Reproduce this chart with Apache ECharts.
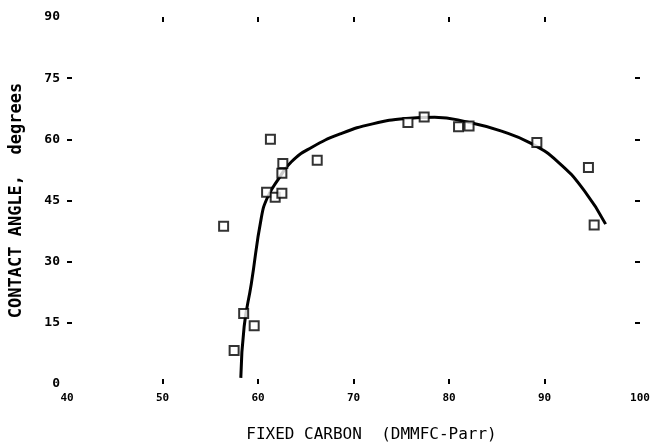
<!DOCTYPE html>
<html>
<head>
<meta charset="utf-8">
<script src="https://cdn.jsdelivr.net/npm/echarts@6/dist/echarts.min.js"></script>
<style>
	html, body { margin: 0; padding: 0; background: #fff; }
	#chart { width: 654px; height: 448px; }
</style>
</head>
<body>
<div id="chart"></div>
<script>
// measured samples (fixed carbon %, contact angle deg)
var carbon = [56.4, 57.5, 58.5, 59.6, 60.9, 61.3, 61.8, 62.5, 62.5, 62.6, 66.2, 75.7, 77.4, 81.0, 82.1, 89.2, 94.6, 95.2];
var angle = [38.7, 8.2, 17.3, 14.3, 47.0, 60.0, 45.8, 46.8, 51.7, 54.1, 54.9, 64.1, 65.5, 63.1, 63.3, 59.2, 53.1, 39.0];

// fitted curve
var fitCarbon = [58.2, 58.55, 59.3, 60.35, 61.0, 62.1, 63.5, 65.6, 68.7, 72.0, 75.5, 78.5, 82.0, 85.5, 88.6, 91.4, 94.2, 96.4];
var fitAngle = [1.5, 14.1, 24.6, 40.8, 45.8, 50.1, 54.5, 58.0, 61.4, 63.8, 65.1, 65.4, 64.2, 62.0, 59.0, 54.5, 47.3, 39.2];

var xTicks = [50, 60, 70, 80, 90];
var yTicks = [15, 30, 45, 60, 75];

var mono = 'DejaVu Sans Mono';

function pairs(xs, ys) {
	var out = [];
	for(var i = 0; i < xs.length; i++) {
		out.push([xs[i], ys[i]]);
	}
	return out;
}

function xAxisOf(pos, showLabel) {
	return {
		type: 'value',
		position: pos,
		min: 40,
		max: 100,
		interval: 10,
		splitLine: { show: false },
		axisLine: { show: false, onZero: false },
		axisTick: { show: true, inside: true, length: 5, customValues: xTicks, lineStyle: { color: '#000', width: 2 } },
		axisLabel: { show: showLabel, color: '#000', fontFamily: mono, fontWeight: 'bold', fontSize: 11, margin: 9 }
	};
}

function yAxisOf(pos, showLabel) {
	return {
		type: 'value',
		position: pos,
		min: 0,
		max: 90,
		interval: 15,
		splitLine: { show: false },
		axisLine: { show: false, onZero: false },
		axisTick: { show: true, inside: true, length: 5, customValues: yTicks, lineStyle: { color: '#000', width: 2 } },
		axisLabel: { show: showLabel, color: '#000', fontFamily: mono, fontWeight: 'bold', fontSize: 13, margin: 7 }
	};
}

var chart = echarts.init(document.getElementById('chart'));

var xBottom = xAxisOf('bottom', true);
xBottom.name = 'FIXED CARBON  (DMMFC-Parr)';
xBottom.nameLocation = 'middle';
xBottom.nameGap = 43;
xBottom.nameTextStyle = { color: '#000', fontFamily: mono, fontSize: 16, padding: [0, 0, 0, 36] };

var yLeft = yAxisOf('left', true);
yLeft.name = 'CONTACT ANGLE,  degrees';
yLeft.nameLocation = 'middle';
yLeft.nameGap = 42;
yLeft.nameTextStyle = { color: '#000', fontFamily: mono, fontWeight: 'bold', fontSize: 17 };

chart.setOption({
	backgroundColor: '#fff',
	animation: false,
	grid: { left: 65, right: 14, top: 17, bottom: 60 },
	xAxis: [xBottom, xAxisOf('top', false)],
	yAxis: [yLeft, yAxisOf('right', false)],
	series: [{
		type: 'line',
		data: pairs(fitCarbon, fitAngle),
		smooth: 0.5,
		showSymbol: false,
		lineStyle: { color: '#000', width: 3 },
		z: 2
	}, {
		type: 'scatter',
		data: pairs(carbon, angle),
		symbol: 'rect',
		symbolSize: 9,
		itemStyle: { color: '#fff', borderColor: '#000', borderWidth: 2 },
		z: 3
	}]
});
</script>
</body>
</html>
